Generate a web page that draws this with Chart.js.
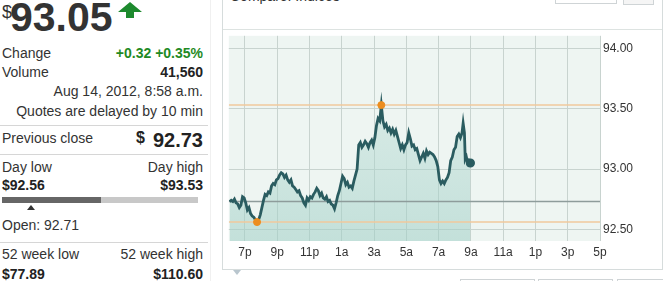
<!DOCTYPE html>
<html><head><meta charset="utf-8">
<script src="https://cdn.jsdelivr.net/npm/chart.js@4"></script>
<style>
html,body{margin:0;padding:0;background:#fff;width:663px;height:281px;overflow:hidden;font-family:"Liberation Sans",Arial,sans-serif;color:#333;}
.a{position:absolute;white-space:nowrap;line-height:16px;font-size:14px;}
.r{text-align:right;right:460px;}
.l{left:2px;}
.b{font-weight:bold;color:#222;}
.g{color:#1f8a24;font-weight:bold;}
.hr{position:absolute;left:0;width:208px;height:1px;background:#d6d6d6;}
.box{position:absolute;border:1px solid #cfd4d6;box-sizing:border-box;background:#fff;}
</style></head>
<body>
<!-- left quote panel -->
<div class="a" style="left:2px;top:2px;font-size:18px;line-height:20px;">$</div>
<div class="a" style="left:10px;top:-6px;font-size:41px;line-height:46px;font-weight:bold;color:#333;">93.05</div>
<svg style="position:absolute;left:117px;top:0px" width="27" height="20"><polygon points="13,2 25,12 17,12 17,18 9,18 9,12 1,12" fill="#1d8a2e"/></svg>

<div class="a l" style="top:45px">Change</div>
<div class="a r g" style="top:45px">+0.32 +0.35%</div>
<div class="a l" style="top:64px">Volume</div>
<div class="a r b" style="top:64px">41,560</div>
<div class="a r" style="top:83px">Aug 14, 2012, 8:58 a.m.</div>
<div class="a r" style="top:103px">Quotes are delayed by 10 min</div>
<div class="hr" style="top:125px"></div>
<div class="a l" style="top:130px">Previous close</div>
<div class="a b" style="left:136px;top:129px;font-size:16px;line-height:18px;">$</div>
<div class="a r b" style="top:129px;font-size:20px;line-height:22px;">92.73</div>
<div class="hr" style="top:154px"></div>
<div class="a l" style="top:159px">Day low</div>
<div class="a r" style="top:159px">Day high</div>
<div class="a l b" style="top:177px">$92.56</div>
<div class="a r b" style="top:177px">$93.53</div>
<div style="position:absolute;left:2px;top:197px;width:99px;height:6px;background:#666;"></div>
<div style="position:absolute;left:101px;top:197px;width:97px;height:6px;background:#c8c8c8;"></div>
<div style="position:absolute;left:27px;top:205px;width:0;height:0;border-left:4px solid transparent;border-right:4px solid transparent;border-bottom:5px solid #333;"></div>
<div class="a l" style="top:217px">Open: 92.71</div>
<div class="hr" style="top:242px"></div>
<div class="a l" style="top:246px">52 week low</div>
<div class="a r" style="top:246px">52 week high</div>
<div class="a l b" style="top:266px">$77.89</div>
<div class="a r b" style="top:266px">$110.60</div>
<div style="position:absolute;left:210px;top:0;width:1px;height:281px;background:#f0f0f0;"></div>

<!-- chart panel -->
<div class="box" style="left:222px;top:-2px;width:441px;height:272px;border-color:#d6dcdc;"></div>
<div class="a" style="left:230px;top:-12px;">Compare: Indices</div>
<div class="box" style="left:555px;top:-10px;width:62px;height:14px;"></div>
<div class="box" style="left:623px;top:-10px;width:31px;height:15px;background:#f5f5f5;"></div>
<div style="position:absolute;left:223px;top:29px;width:439px;height:1px;background:#dde3e1;"></div>
<div style="position:absolute;left:222px;top:29px;width:420px;height:240px;">
<canvas id="c" width="420" height="240"></canvas>
</div>
<div style="position:absolute;left:233px;top:270px;width:0;height:0;border-left:4px solid transparent;border-right:4px solid transparent;border-top:5px solid #b9c6ce;"></div>
<div class="box" style="left:460px;top:279px;width:75px;height:10px;"></div>
<div class="box" style="left:538px;top:279px;width:75px;height:10px;"></div>
<div class="box" style="left:617px;top:279px;width:50px;height:10px;"></div>

<script>
// hours after 6:00 p.m.
const priceTimes = [0.05,0.15,0.25,0.35,0.45,0.55,0.65,0.75,0.85,0.95,1.05,1.15,1.25,1.35,1.45,1.55,1.65,1.75,1.85,1.95,
2.05,2.15,2.25,2.35,2.45,2.55,2.65,2.75,2.85,2.95,3.05,3.15,3.25,3.35,3.45,3.55,3.65,3.75,3.85,3.95,
4.05,4.15,4.25,4.35,4.45,4.55,4.65,4.75,4.85,4.95,5.05,5.15,5.25,5.35,5.45,5.55,5.65,5.75,5.85,5.95,
6.05,6.15,6.25,6.35,6.45,6.55,6.65,6.75,6.85,6.95,7.05,7.15,7.25,7.35,7.45,7.55,7.65,7.75,7.85,7.95,
8.05,8.15,8.25,8.35,8.45,8.55,8.65,8.75,8.85,8.95,9.05,9.15,9.25,9.35,9.45,9.55,9.65,9.75,9.85,9.95,
10.05,10.15,10.25,10.35,10.45,10.55,10.65,10.75,10.85,10.95,11.05,11.15,11.25,11.35,11.45,11.55,11.65,11.75,11.85,11.95,
12.05,12.15,12.25,12.35,12.45,12.55,12.65,12.75,12.85,12.95,13.05,13.15,13.25,13.35,13.45,13.55,13.65,13.75,13.85,13.95,
14.05,14.15,14.25,14.35,14.45,14.52,14.60,14.65,14.72,14.80,14.88,14.97];
const priceValues = [92.73,92.74,92.73,92.75,92.72,92.71,92.68,92.70,92.77,92.76,92.72,92.66,92.68,92.63,92.61,92.60,92.58,92.56,92.58,92.62,
92.68,92.74,92.79,92.78,92.81,92.80,92.86,92.88,92.87,92.91,92.92,92.95,92.97,92.96,92.93,92.95,92.91,92.89,92.91,92.86,
92.85,92.83,92.81,92.82,92.78,92.76,92.72,92.70,92.76,92.74,92.77,92.76,92.79,92.81,92.84,92.82,92.78,92.80,92.76,92.75,
92.77,92.73,92.74,92.71,92.70,92.67,92.72,92.78,92.82,92.88,92.94,92.92,92.87,92.89,92.85,92.86,92.84,92.90,92.95,93.00,
93.20,93.22,93.18,93.20,93.23,93.21,93.18,93.22,93.24,93.20,93.26,93.36,93.42,93.40,93.53,93.40,93.35,93.37,93.32,93.34,
93.30,93.33,93.29,93.32,93.27,93.22,93.17,93.20,93.16,93.20,93.22,93.30,93.25,93.19,93.20,93.16,93.17,93.12,93.07,93.10,
93.13,93.09,93.15,93.12,93.14,93.13,93.12,93.10,93.07,93.02,92.91,92.88,92.90,92.88,92.91,92.93,92.97,93.07,93.10,93.16,
93.18,93.27,93.29,93.26,93.30,93.38,93.30,93.08,93.10,93.05,93.07,93.05];
const prevClose = 92.73;
const dayHigh = 93.53, dayHighTime = 9.45;
const dayLow = 92.56, dayLowTime = 1.75;
const sessionStart = 0, sessionEnd = 23;
const yTicks = [92.5, 93.0, 93.5, 94.0];
const yMin = 92.403, yMax = 94.105;
const xTickHours = [1,3,5,7,9,11,13,15,17,19,21,23];
const xTickLabels = ['7p','9p','11p','1a','3a','5a','7a','9a','11a','1p','3p','5p'];

const pricePts = priceTimes.map((t,i)=>({x:t,y:priceValues[i]}));
const lastIdx = pricePts.length-1;
const FONT = '"Liberation Sans", Arial, sans-serif';

const bgPlugin = {
  id:'bg',
  beforeDraw(chart){
    const {ctx, chartArea:a} = chart;
    ctx.save();
    ctx.fillStyle = '#eef5f2';
    ctx.fillRect(a.left, a.top, a.right-a.left, a.bottom-a.top);
    ctx.restore();
  }
};

function hLine(v){ return [{x:sessionStart,y:v},{x:sessionEnd,y:v}]; }

new Chart(document.getElementById('c'), {
  type:'line',
  data:{datasets:[
    {data:pricePts, borderWidth:0, pointRadius:0, fill:'start', order:5,
     backgroundColor:(ctx)=>{
       const a = ctx.chart.chartArea; if(!a) return 'rgba(170,212,204,0.45)';
       const g = ctx.chart.ctx.createLinearGradient(0,a.top,0,a.bottom);
       g.addColorStop(0,'rgba(185,220,213,0.30)');
       g.addColorStop(1,'rgba(160,207,198,0.55)');
       return g;
     }},
    {data:hLine(dayHigh), borderColor:'#f0c99c', borderWidth:1.5, pointRadius:0, fill:false, order:4},
    {data:hLine(dayLow), borderColor:'#f0c99c', borderWidth:1.5, pointRadius:0, fill:false, order:4},
    {data:hLine(prevClose), borderColor:'#8e9c9b', borderWidth:1.5, pointRadius:0, fill:false, order:3},
    {data:pricePts, borderColor:'#2a5c60', borderWidth:2.8, fill:false, order:2,
     pointRadius:(c)=>c.dataIndex===lastIdx?3.2:0, pointBackgroundColor:'#2a5c60', pointBorderColor:'#2a5c60'},
    {type:'scatter', data:[{x:dayHighTime,y:dayHigh},{x:dayLowTime,y:dayLow}], pointRadius:3.5,
     pointBackgroundColor:'#ec8d1f', pointBorderColor:'#ec8d1f', order:1}
  ]},
  options:{
    responsive:false, animation:false, devicePixelRatio:1,
    layout:{padding:{top:1,left:1,right:0,bottom:0}},
    plugins:{legend:{display:false}, tooltip:{enabled:false}},
    elements:{line:{tension:0}},
    scales:{
      x:{type:'linear', min:sessionStart, max:sessionEnd,
         afterBuildTicks:s=>{s.ticks = xTickHours.map(v=>({value:v}));},
         afterFit:s=>{s.height=28; s.paddingLeft=0; s.paddingRight=0; s.paddingTop=0; s.paddingBottom=0;},
         grid:{color:'#c8d3cf', drawTicks:false},
         border:{display:false},
         ticks:{padding:4, autoSkip:false, maxRotation:0, color:'#333', font:{size:12, family:FONT},
                callback:(v,i)=>xTickLabels[i]}},
      y:{position:'right', min:yMin, max:yMax,
         afterBuildTicks:s=>{s.ticks = yTicks.map(v=>({value:v}));},
         afterFit:s=>{s.width=42; s.paddingLeft=0; s.paddingRight=0; s.paddingTop=0; s.paddingBottom=0;},
         grid:{color:'#c8d3cf', drawTicks:false},
         border:{display:false},
         ticks:{padding:3, color:'#333', font:{size:12, family:FONT}, callback:v=>v.toFixed(2)}}
    }
  },
  plugins:[bgPlugin]
});
</script>
</body></html>
